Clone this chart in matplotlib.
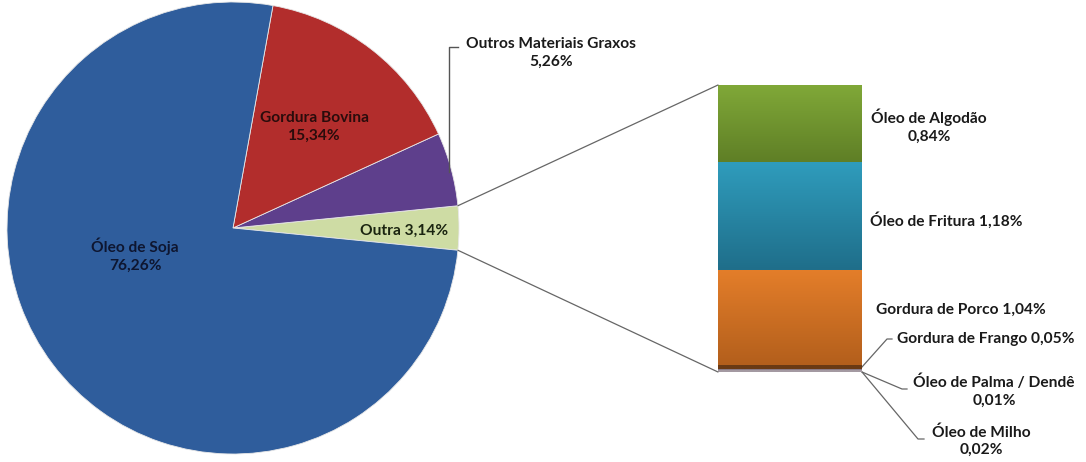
import numpy as np
import matplotlib
matplotlib.use("Agg")
import matplotlib.pyplot as plt
from matplotlib.colors import LinearSegmentedColormap
from matplotlib.patches import ConnectionPatch

# pie part (counter-clockwise starting at the "Outra" slice)
pie_labels = ["Outra", "Outros Materiais Graxos", "Gordura Bovina", "Óleo de Soja"]
pie_values = [3.14, 5.26, 15.34, 76.26]
pie_colors = ["#cedca4", "#5e3f8c", "#b22d2c", "#2f5d9c"]

# bar part, bottom to top
bar_labels = ["Óleo de Milho", "Óleo de Palma / Dendê", "Gordura de Frango",
              "Gordura de Porco", "Óleo de Fritura", "Óleo de Algodão"]
bar_values = [0.02, 0.01, 0.05, 1.04, 1.18, 0.84]
bar_grad = [("#a49aa2", "#a49aa2"), ("#8a7c88", "#8a7c88"), ("#6a3a14", "#6a3a14"),
            ("#b35f1c", "#e47e2a"), ("#1f6e8a", "#2f9cbc"), ("#5f7f26", "#80a838")]

W, H = 1086, 462


def fmt(v):
    return f"{v:.2f}%".replace(".", ",")


def py(y):
    # pixel row (from top) -> data y
    return H - y


plt.rcParams["font.family"] = ["Lato", "DejaVu Sans"]
fig = plt.figure(figsize=(W / 100, H / 100), dpi=100)
ax = fig.add_axes([0, 0, 1, 1])

cx, cy, r = 233, py(228), 226
half = pie_values[0] * 3.6 / 2
wedges, _ = ax.pie(pie_values, colors=pie_colors, startangle=-half, counterclock=True,
                   center=(cx, cy), radius=r, frame=True,
                   wedgeprops=dict(linewidth=0.6, edgecolor="#e8e8e8"))
ax.set_xlim(0, W)
ax.set_ylim(0, H)
ax.set_aspect("equal")
ax.set_axis_off()

fs = 11.2
txt = dict(fontsize=fs, fontweight="bold", ha="center", va="center", linespacing=1.3)
ax.text(135, py(255), f"{pie_labels[3]}\n{fmt(pie_values[3])}", color="#0e1630", **txt)
ax.text(314, py(127), f"{pie_labels[2]}\n{fmt(pie_values[2])}", color="#2a0c0c", **txt)
ax.text(404, py(231), f"{pie_labels[0]} {fmt(pie_values[0])}", color="#1a2410", **txt)
ax.text(551, py(53), f"{pie_labels[1]}\n{fmt(pie_values[1])}", color="#1a1a1a", **txt)
ax.plot([449, 449, 458], [py(172), py(47), py(47)], color="#555555", lw=1)

# bar of the "Outra" slice
bax = fig.add_axes([718 / W, (H - 372) / H, 144 / W, 287 / H])
bottoms = np.concatenate([[0], np.cumsum(bar_values)[:-1]])
bars = bax.bar([0] * len(bar_values), bar_values, bottom=bottoms, width=1,
               color="none", edgecolor="none")
grad = np.linspace(0, 1, 128).reshape(-1, 1)
for patch, (lo, hi) in zip(bars, bar_grad):
    x0, y0 = patch.get_x(), patch.get_y()
    cmap = LinearSegmentedColormap.from_list("g", [lo, hi])
    im = bax.imshow(grad, extent=[x0, x0 + patch.get_width(), y0, y0 + patch.get_height()],
                    origin="lower", cmap=cmap, aspect="auto")
    im.set_clip_path(patch)
total = sum(bar_values)
bax.set_xlim(-0.5, 0.5)
bax.set_ylim(0, total)
bax.set_axis_off()

# connector lines between pie and bar
for ang, yb in [(half, total), (-half, 0)]:
    a = np.deg2rad(ang)
    con = ConnectionPatch(xyA=(cx + r * np.cos(a), cy + r * np.sin(a)), coordsA=ax.transData,
                          xyB=(-0.5, yb), coordsB=bax.transData, color="#666666", lw=0.9)
    fig.add_artist(con)

tb = dict(fontsize=fs, fontweight="bold", ha="center", va="center", linespacing=1.3,
          color="#1a1a1a")
ax.text(929, py(126), f"{bar_labels[5]}\n{fmt(bar_values[5])}", **tb)
ax.text(946, py(220), f"{bar_labels[4]} {fmt(bar_values[4])}", **tb)
ax.text(961, py(310), f"{bar_labels[3]} {fmt(bar_values[3])}", **tb)
ax.text(986, py(339), f"{bar_labels[2]} {fmt(bar_values[2])}", **tb)
ax.text(994, py(391), f"{bar_labels[1]}\n{fmt(bar_values[1])}", **tb)
ax.text(981, py(441), f"{bar_labels[0]}\n{fmt(bar_values[0])}", **tb)

lc = dict(color="#666666", lw=0.9)
ax.plot([862, 887, 892], [py(367), py(339), py(339)], **lc)
ax.plot([862, 902, 907], [py(372), py(389), py(389)], **lc)
ax.plot([862, 918, 924], [py(372), py(439), py(439)], **lc)

fig.savefig("out.png", dpi=100, facecolor="white")
